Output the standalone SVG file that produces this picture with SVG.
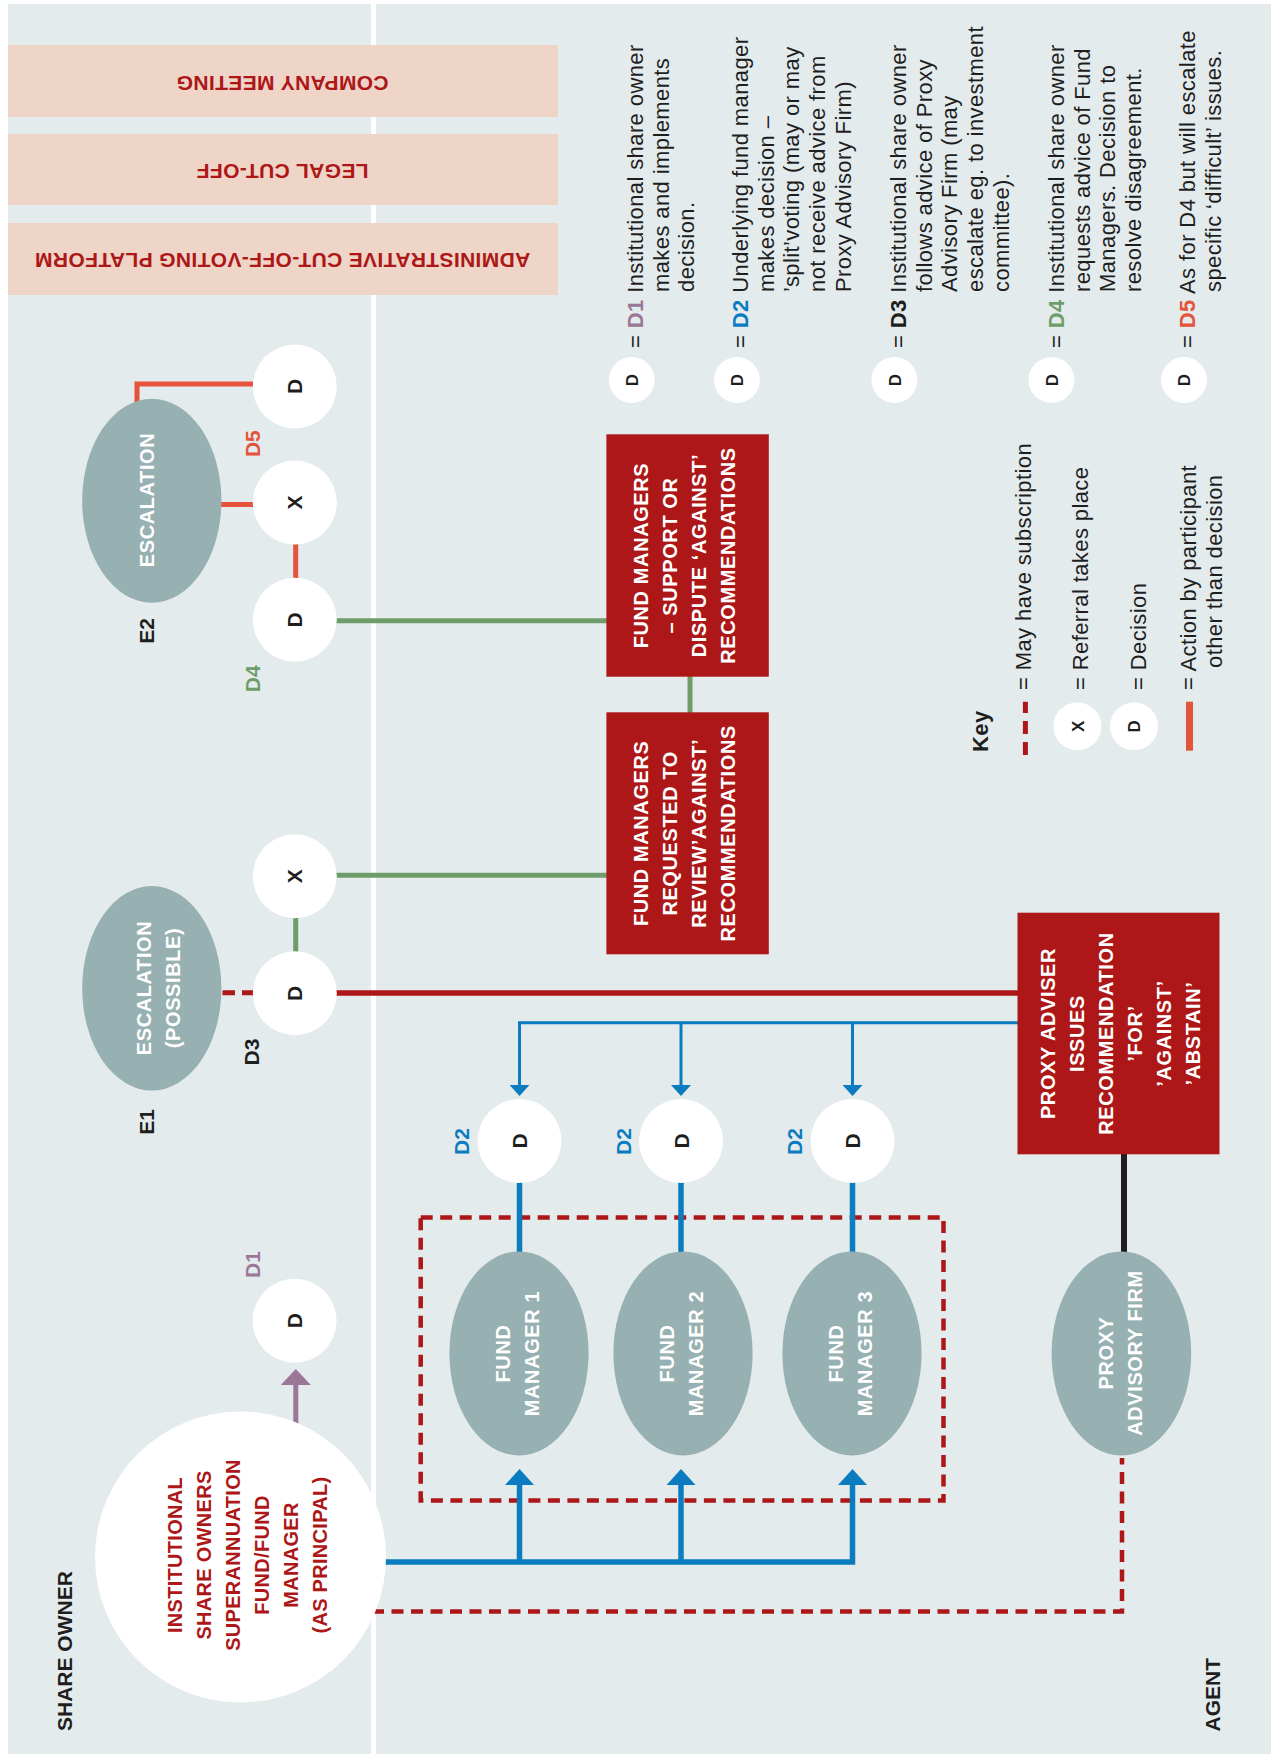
<svg xmlns="http://www.w3.org/2000/svg" width="1271" height="1754" viewBox="0 0 1271 1754">
<defs>
<style>
text{font-family:'Liberation Sans',Arial,sans-serif}
.bg{fill:#e3ebed}
.ban{fill:#efd4c8}
.bant{font-size:21px;font-weight:bold;fill:#ad1717;text-anchor:middle;letter-spacing:0.35px}
.ell{fill:#97b0b1}
.wc{fill:#ffffff}
.box{fill:#ad1717}
.wt{font-size:20px;font-weight:bold;fill:#ffffff;text-anchor:middle;letter-spacing:0.6px}
.rt{font-size:20px;font-weight:bold;fill:#ad1717;text-anchor:middle;letter-spacing:0.3px}
.dd{font-size:21px;font-weight:bold;fill:#1e1e1e;text-anchor:middle}
.ds{font-size:17px;font-weight:bold;fill:#1e1e1e;text-anchor:middle}
.lab{font-size:21px;font-weight:bold;text-anchor:middle}
.side{font-size:21px;font-weight:bold;fill:#1e1e1e}
.lg{font-size:22px;fill:#1e1e1e;letter-spacing:0.4px}
.b{font-weight:bold}
.dash{fill:none;stroke:#ad1717;stroke-width:4.5;stroke-dasharray:12 7.5}
.or{fill:none;stroke:#e5533a;stroke-width:5}
.gr{fill:none;stroke:#6f9d69;stroke-width:5}
.rd{fill:none;stroke:#ad1717;stroke-width:5.3}
.bl3{fill:none;stroke:#0a7cbf;stroke-width:3}
.bl5{fill:none;stroke:#0a7cbf;stroke-width:5.5}
.pu{fill:none;stroke:#9a7796;stroke-width:5}
.bk{fill:none;stroke:#1e1e1e;stroke-width:6}
</style>
<marker id="ahs" viewBox="0 0 11 20" refX="0" refY="10" markerWidth="11" markerHeight="20" markerUnits="userSpaceOnUse" orient="auto"><path d="M0,0 L11,10 L0,20 z" fill="#0a7cbf"/></marker>
<marker id="ahb" viewBox="0 0 16 29" refX="0" refY="14.5" markerWidth="16" markerHeight="29" markerUnits="userSpaceOnUse" orient="auto"><path d="M0,0 L16,14.5 L0,29 z" fill="#0a7cbf"/></marker>
<marker id="ahp" viewBox="0 0 16 30" refX="0" refY="15" markerWidth="16" markerHeight="30" markerUnits="userSpaceOnUse" orient="auto"><path d="M0,0 L16,15 L0,30 z" fill="#9a7796"/></marker>
</defs>

<g id="background">
<rect x="0" y="0" width="1271" height="1754" fill="#ffffff"/>
<rect class="bg" x="8" y="4" width="1263" height="1750"/>
<rect x="371" y="4" width="5" height="1750" fill="#ffffff"/>
<text class="side" transform="translate(72.4,1731) rotate(-90)">SHARE OWNER</text>
<text class="side" transform="translate(1220,1731.5) rotate(-90)">AGENT</text>
</g>

<g id="banners">
<rect class="ban" x="8" y="45" width="550" height="72"/>
<text class="bant" transform="translate(282.5,75.8) rotate(180)">COMPANY MEETING</text>
<rect class="ban" x="8" y="134" width="550" height="71"/>
<text class="bant" transform="translate(282.5,163.8) rotate(180)">LEGAL CUT-OFF</text>
<rect class="ban" x="8" y="223" width="550" height="72"/>
<text class="bant" transform="translate(282.5,253.2) rotate(180)">ADMINISTRATIVE CUT-OFF-VOTING PLATFORM</text>
</g>

<g id="connectors">
<rect class="dash" x="420.7" y="1217.4" width="522.8" height="283.1"/>
<path class="dash" d="M372 1611.5 H1122 V1458"/>
<path class="or" d="M253 384 H137 V412"/>
<path class="or" d="M215 504.5 H258"/>
<path class="or" d="M295.7 540 V582"/>
<path class="gr" d="M330 620.7 H607"/>
<path class="gr" d="M690 676 V713"/>
<path class="gr" d="M330 875.3 H607"/>
<path class="gr" d="M295.7 915 V955"/>
<path class="dash" style="stroke-width:5;stroke-dasharray:12.5 7" d="M222.5 992.7 H253"/>
<path class="rd" d="M330 993 H1018"/>
<path class="bl3" d="M1018 1022.7 H519.5 V1085" marker-end="url(#ahs)"/>
<path class="bl3" d="M681 1022.7 V1085" marker-end="url(#ahs)"/>
<path class="bl3" d="M852.5 1022.7 V1085" marker-end="url(#ahs)"/>
<path class="bl5" d="M519.5 1180 V1256"/>
<path class="bl5" d="M681 1180 V1256"/>
<path class="bl5" d="M852.5 1180 V1256"/>
<path class="bl5" d="M380 1562 H852.5 V1485" marker-end="url(#ahb)"/>
<path class="bl5" d="M519.5 1562 V1485" marker-end="url(#ahb)"/>
<path class="bl5" d="M681 1562 V1485" marker-end="url(#ahb)"/>
<path class="pu" d="M295.8 1430 V1385" marker-end="url(#ahp)"/>
<path class="bk" d="M1124 1154 V1256"/>
</g>

<g id="escalation-e2">
<ellipse class="ell" cx="151.8" cy="500.7" rx="69.6" ry="102"/>
<text class="wt" transform="translate(153.6,500) rotate(-90)">ESCALATION</text>
<text class="lab" fill="#1e1e1e" transform="translate(153.6,630.8) rotate(-90)">E2</text>
</g>
<g id="d5">
<circle class="wc" cx="294.8" cy="386.5" r="42"/>
<text class="dd" transform="translate(302.3,386.5) rotate(-90)">D</text>
<text class="lab" fill="#e5533a" transform="translate(260,443.7) rotate(-90)">D5</text>
</g>
<g id="x-e2">
<circle class="wc" cx="294.8" cy="502.5" r="42"/>
<text class="dd" transform="translate(302.3,502.5) rotate(-90)">X</text>
</g>
<g id="d4">
<circle class="wc" cx="294.8" cy="619.8" r="42"/>
<text class="dd" transform="translate(302.3,619.8) rotate(-90)">D</text>
<text class="lab" fill="#6f9d69" transform="translate(260,678.8) rotate(-90)">D4</text>
</g>

<g id="escalation-e1">
<ellipse class="ell" cx="151.8" cy="988.3" rx="69.6" ry="102.3"/>
<text class="wt" transform="translate(151,988) rotate(-90)"><tspan x="0" y="0">ESCALATION</tspan><tspan x="0" y="28.5">(POSSIBLE)</tspan></text>
<text class="lab" fill="#1e1e1e" transform="translate(153.6,1122) rotate(-90)">E1</text>
</g>
<g id="x-e1">
<circle class="wc" cx="294.8" cy="876.2" r="42"/>
<text class="dd" transform="translate(302.3,876.2) rotate(-90)">X</text>
</g>
<g id="d3">
<circle class="wc" cx="294.8" cy="993.3" r="42"/>
<text class="dd" transform="translate(302.3,993.3) rotate(-90)">D</text>
<text class="lab" fill="#1e1e1e" transform="translate(259.3,1052) rotate(-90)">D3</text>
</g>

<g id="box-support">
<rect class="box" x="606.4" y="434.3" width="162.4" height="242.4"/>
<text class="wt" transform="translate(647.5,555.5) rotate(-90)"><tspan x="0" y="0">FUND MANAGERS</tspan><tspan x="0" y="29.3">– SUPPORT OR</tspan><tspan x="0" y="58.6">DISPUTE ‘AGAINST’</tspan><tspan x="0" y="87.9">RECOMMENDATIONS</tspan></text>
</g>
<g id="box-review">
<rect class="box" x="606.4" y="712.3" width="162.4" height="242"/>
<text class="wt" transform="translate(647.5,833.3) rotate(-90)"><tspan x="0" y="0">FUND MANAGERS</tspan><tspan x="0" y="29.3">REQUESTED TO</tspan><tspan x="0" y="58.6">REVIEW’AGAINST’</tspan><tspan x="0" y="87.9">RECOMMENDATIONS</tspan></text>
</g>
<g id="box-proxy">
<rect class="box" x="1017.5" y="912.7" width="202" height="241.6"/>
<text class="wt" transform="translate(1054.5,1033.5) rotate(-90)"><tspan x="0" y="0">PROXY ADVISER</tspan><tspan x="0" y="29">ISSUES</tspan><tspan x="0" y="58">RECOMMENDATION</tspan><tspan x="0" y="87">’FOR’</tspan><tspan x="0" y="116">’AGAINST’</tspan><tspan x="0" y="145">’ABSTAIN’</tspan></text>
</g>

<g id="d2-1">
<circle class="wc" cx="519.5" cy="1141" r="42"/>
<text class="dd" transform="translate(527,1141) rotate(-90)">D</text>
<text class="lab" fill="#0a7cbf" transform="translate(469,1141.6) rotate(-90)">D2</text>
</g>
<g id="d2-2">
<circle class="wc" cx="681" cy="1141" r="42"/>
<text class="dd" transform="translate(688.5,1141) rotate(-90)">D</text>
<text class="lab" fill="#0a7cbf" transform="translate(630.6,1141.6) rotate(-90)">D2</text>
</g>
<g id="d2-3">
<circle class="wc" cx="852.5" cy="1141" r="42"/>
<text class="dd" transform="translate(860,1141) rotate(-90)">D</text>
<text class="lab" fill="#0a7cbf" transform="translate(802.3,1141.6) rotate(-90)">D2</text>
</g>

<g id="fund-manager-1">
<ellipse class="ell" cx="519" cy="1353.4" rx="69.6" ry="102"/>
<text class="wt" transform="translate(510,1353.5) rotate(-90)"><tspan x="0" y="0">FUND</tspan><tspan x="0" y="29">MANAGER 1</tspan></text>
</g>
<g id="fund-manager-2">
<ellipse class="ell" cx="683" cy="1353.4" rx="69.6" ry="102"/>
<text class="wt" transform="translate(674,1353.5) rotate(-90)"><tspan x="0" y="0">FUND</tspan><tspan x="0" y="29">MANAGER 2</tspan></text>
</g>
<g id="fund-manager-3">
<ellipse class="ell" cx="852" cy="1353.4" rx="69.6" ry="102"/>
<text class="wt" transform="translate(843,1353.5) rotate(-90)"><tspan x="0" y="0">FUND</tspan><tspan x="0" y="29">MANAGER 3</tspan></text>
</g>
<g id="proxy-advisory-firm">
<ellipse class="ell" cx="1121.4" cy="1353.4" rx="69.8" ry="102"/>
<text class="wt" transform="translate(1112.5,1353) rotate(-90)"><tspan x="0" y="0">PROXY</tspan><tspan x="0" y="29.5">ADVISORY FIRM</tspan></text>
</g>

<g id="d1">
<circle class="wc" cx="294.6" cy="1320.7" r="42"/>
<text class="dd" transform="translate(302.1,1320.7) rotate(-90)">D</text>
<text class="lab" fill="#9a7796" transform="translate(259.8,1264.6) rotate(-90)">D1</text>
</g>
<g id="share-owner">
<circle class="wc" cx="240.5" cy="1557" r="145.5"/>
<text class="rt" transform="translate(182,1555) rotate(-90)"><tspan x="0" y="0">INSTITUTIONAL</tspan><tspan x="0" y="29">SHARE OWNERS</tspan><tspan x="0" y="58">SUPERANNUATION</tspan><tspan x="0" y="87">FUND/FUND</tspan><tspan x="0" y="116">MANAGER</tspan><tspan x="0" y="145">(AS PRINCIPAL)</tspan></text>
</g>

<g id="legend">
<circle class="wc" cx="631.7" cy="380" r="23"/>
<text class="ds" transform="translate(637.8,380) rotate(-90)">D</text>
<text class="lg" transform="translate(643,348) rotate(-90)"><tspan x="0" y="0">= <tspan class="b" fill="#9a7796">D1</tspan> Institutional share owner</tspan><tspan x="56" y="25.7">makes and implements</tspan><tspan x="56" y="51.4">decision.</tspan></text>
<circle class="wc" cx="736.9" cy="380" r="23"/>
<text class="ds" transform="translate(743,380) rotate(-90)">D</text>
<text class="lg" transform="translate(748,348) rotate(-90)"><tspan x="0" y="0">= <tspan class="b" fill="#0a7cbf">D2</tspan> Underlying fund manager</tspan><tspan x="56" y="25.7">makes decision –</tspan><tspan x="56" y="51.4">’split’voting (may or may</tspan><tspan x="56" y="77.1">not receive advice from</tspan><tspan x="56" y="102.8">Proxy Advisory Firm)</tspan></text>
<circle class="wc" cx="894.4" cy="380" r="23"/>
<text class="ds" transform="translate(900.5,380) rotate(-90)">D</text>
<text class="lg" transform="translate(906,348) rotate(-90)"><tspan x="0" y="0">= <tspan class="b" fill="#1e1e1e">D3</tspan> Institutional share owner</tspan><tspan x="56" y="25.7">follows advice of Proxy</tspan><tspan x="56" y="51.4">Advisory Firm (may</tspan><tspan x="56" y="77.1">escalate eg. to investment</tspan><tspan x="56" y="102.8">committee).</tspan></text>
<circle class="wc" cx="1051.4" cy="380" r="23"/>
<text class="ds" transform="translate(1057.5,380) rotate(-90)">D</text>
<text class="lg" transform="translate(1064,348) rotate(-90)"><tspan x="0" y="0">= <tspan class="b" fill="#6f9d69">D4</tspan> Institutional share owner</tspan><tspan x="56" y="25.7">requests advice of Fund</tspan><tspan x="56" y="51.4">Managers. Decision to</tspan><tspan x="56" y="77.1">resolve disagreement.</tspan></text>
<circle class="wc" cx="1184" cy="380" r="23"/>
<text class="ds" transform="translate(1190.1,380) rotate(-90)">D</text>
<text class="lg" transform="translate(1195,348) rotate(-90)"><tspan x="0" y="0">= <tspan class="b" fill="#e5533a">D5</tspan> As for D4 but will escalate</tspan><tspan x="56" y="25.7">specific ‘difficult’ issues.</tspan></text>
</g>

<g id="key">
<text class="lg b" transform="translate(988,752) rotate(-90)">Key</text>
<path class="dash" style="stroke-width:5;stroke-dasharray:13 8" d="M1025.4 755 V701.7"/>
<text class="lg" transform="translate(1031,690) rotate(-90)">= May have subscription</text>
<circle class="wc" cx="1077.4" cy="726.3" r="24"/>
<text class="ds" transform="translate(1083.5,726.3) rotate(-90)">X</text>
<text class="lg" transform="translate(1088,690) rotate(-90)">= Referral takes place</text>
<circle class="wc" cx="1134" cy="726.3" r="24"/>
<text class="ds" transform="translate(1140.1,726.3) rotate(-90)">D</text>
<text class="lg" transform="translate(1145.6,690) rotate(-90)">= Decision</text>
<rect x="1186" y="701.7" width="7" height="49" fill="#e5533a"/>
<text class="lg" transform="translate(1196,690) rotate(-90)"><tspan x="0" y="0">= Action by participant</tspan><tspan x="22" y="26">other than decision</tspan></text>
</g>
</svg>
